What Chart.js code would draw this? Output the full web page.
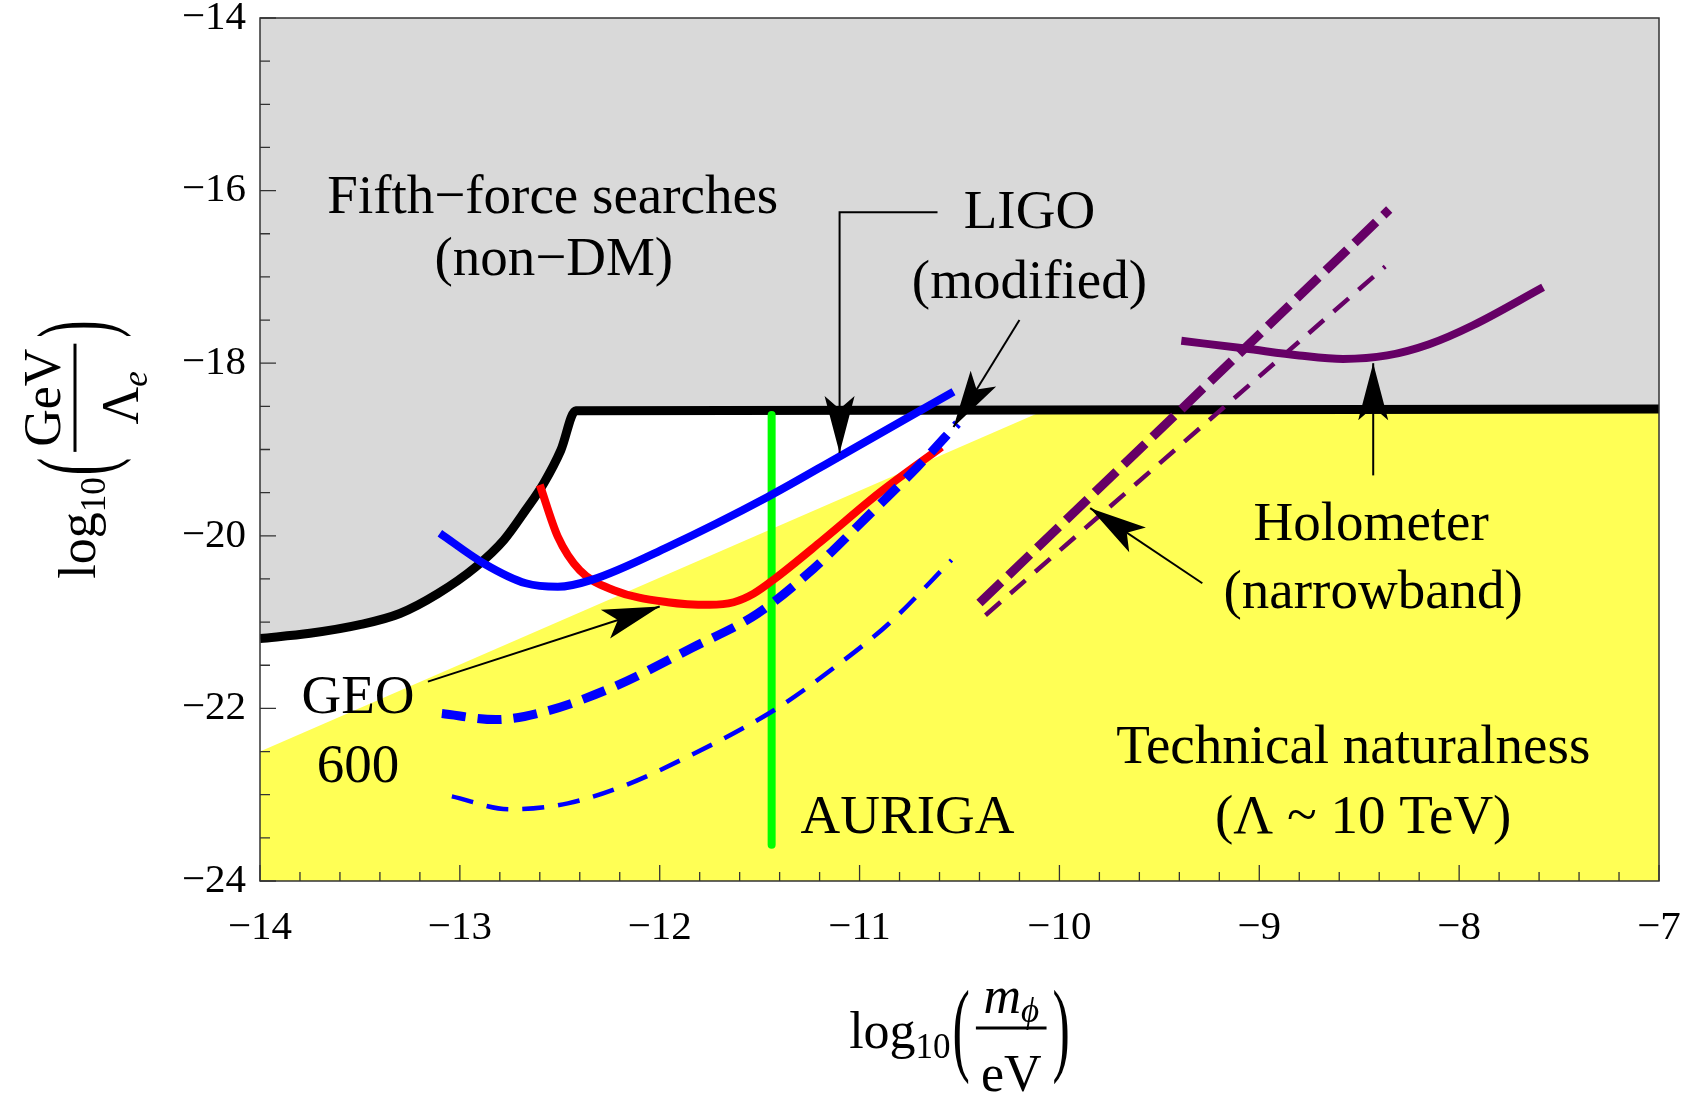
<!DOCTYPE html>
<html>
<head>
<meta charset="utf-8">
<script src="https://cdn.jsdelivr.net/npm/chart.js@4.4.1/dist/chart.umd.min.js"></script>
<style>
  html, body { margin: 0; padding: 0; background: #fff; }
  #wrap { width: 1698px; height: 1093px; position: relative; }
</style>
</head>
<body>
<div id="wrap"><canvas id="chart"></canvas></div>
<script>
// tick labels
const xTickValues = [-14, -13, -12, -11, -10, -9, -8, -7];
const yTickValues = [-24, -22, -20, -18, -16, -14];

// fifth-force exclusion boundary (grey above)
const fifthX = [-14, -13.75, -13.5, -13.3, -13.11, -12.92, -12.78, -12.67, -12.58, -12.495, -12.42, -7];
const fifthY = [-21.19, -21.13, -21.03, -20.9, -20.67, -20.36, -20.05, -19.7, -19.39, -19.01, -18.55, -18.53];

// technical naturalness boundary (yellow below)
const naturalX = [-14, -10.08, -7];
const naturalY = [-22.5, -18.55, -18.55];

// AURIGA
const aurigaX = [-11.44, -11.44];
const aurigaY = [-18.6, -23.58];

// GEO 600 (red)
const geoX = [-12.6, -12.51, -12.4, -12.23, -11.96, -11.75, -11.63, -11.53, -11.42, -11.19, -10.9, -10.59];
const geoY = [-19.41, -20.01, -20.4, -20.63, -20.77, -20.8, -20.77, -20.67, -20.49, -20.06, -19.5, -18.97];

// LIGO (blue solid)
const ligoX = [-13.1, -12.88, -12.67, -12.51, -12.34, -11.96, -11.46, -11.1, -10.53];
const ligoY = [-19.97, -20.32, -20.55, -20.59, -20.51, -20.13, -19.55, -19.08, -18.33];

// LIGO modified (blue thick dashed)
const ligoModX = [-13.09, -12.82, -12.58, -12.23, -11.84, -11.51, -11.23, -10.98, -10.71, -10.51];
const ligoModY = [-22.06, -22.13, -22.04, -21.75, -21.3, -20.9, -20.38, -19.82, -19.2, -18.7];

// LIGO modified, thin dashed
const ligoMod2X = [-13.04, -12.75, -12.46, -12.16, -11.86, -11.6, -11.4, -11.14, -10.85, -10.54];
const ligoMod2Y = [-23.02, -23.17, -23.1, -22.88, -22.56, -22.25, -21.98, -21.55, -21.01, -20.28];

// Holometer narrowband (purple dashed)
const holoNbX = [-10.4, -8.35];
const holoNbY = [-20.78, -16.22];
const holoNb2X = [-10.37, -8.37];
const holoNb2Y = [-20.92, -16.88];

// Holometer (purple solid)
const holoX = [-9.39, -9.07, -8.8, -8.58, -8.36, -8.15, -7.93, -7.58];
const holoY = [-17.74, -17.83, -17.91, -17.95, -17.91, -17.78, -17.56, -17.12];

// annotations in data coordinates
const labelTexts = [
  { t: "Fifth\u2212force searches", x: -12.535, y: -16.256 },
  { t: "(non\u2212DM)", x: -12.53, y: -16.98 },
  { t: "LIGO", x: -10.15, y: -16.43 },
  { t: "(modified)", x: -10.15, y: -17.24 },
  { t: "GEO", x: -13.51, y: -22.05 },
  { t: "600", x: -13.51, y: -22.85 },
  { t: "AURIGA", x: -10.76, y: -23.44 },
  { t: "Holometer", x: -8.44, y: -20.05 },
  { t: "(narrowband)", x: -8.43, y: -20.84 },
  { t: "Technical naturalness", x: -8.53, y: -22.63 },
  { t: "(\u039B ~ 10 TeV)", x: -8.48, y: -23.44 },
];

const arrows = [
  [[-10.61, -16.25], [-11.10, -16.25], [-11.10, -19.04]],
  [[-10.20, -17.50], [-10.53, -18.74]],
  [[-13.16, -21.69], [-12.00, -20.82]],
  [[-8.43, -19.30], [-8.43, -18.00]],
  [[-9.285, -20.55], [-9.846, -19.68]],
];

const SERIF = '"Liberation Serif", "Times New Roman", serif';
const PURPLE = "#660066";

function pts(xs, ys) {
  return xs.map((x, i) => ({ x, y: ys[i] }));
}

function fmtTick(v) {
  return v < 0 ? "\u2212" + Math.abs(v) : String(v);
}

const base = { pointRadius: 0, pointHoverRadius: 0, fill: false, borderCapStyle: "butt", borderJoinStyle: "round" };

function drawArrowHead(ctx, x0, y0, x1, y1) {
  const ang = Math.atan2(y1 - y0, x1 - x0);
  ctx.save();
  ctx.translate(x1, y1);
  ctx.rotate(ang);
  ctx.beginPath();
  ctx.moveTo(0, 0);
  ctx.lineTo(-57, -15);
  ctx.lineTo(-44, 0);
  ctx.lineTo(-57, 15);
  ctx.closePath();
  ctx.fill();
  ctx.restore();
}

function runWidth(ctx, runs) {
  let w = 0;
  for (const r of runs) { ctx.font = r.font; w += ctx.measureText(r.t).width; }
  return w;
}

function drawRuns(ctx, runs, x, y) {
  for (const r of runs) {
    ctx.font = r.font;
    ctx.fillText(r.t, x, y + (r.dy || 0));
    x += ctx.measureText(r.t).width;
  }
}

const mainFont = "52px " + SERIF;
const subFont = "35px " + SERIF;
const itFont = "italic 52px " + SERIF;
const itSub = "italic 35px " + SERIF;

function drawParen(ctx, ch, x) {
  ctx.save();
  ctx.translate(x, 7);
  ctx.scale(1, 2);
  ctx.font = mainFont;
  ctx.fillText(ch, 0, 13.5);
  ctx.restore();
}

function drawAxisTitle(ctx, cx, cy, angle, numRuns, denRuns) {
  ctx.save();
  ctx.translate(cx, cy);
  ctx.rotate(angle);
  ctx.fillStyle = "#000";
  ctx.textAlign = "left";
  ctx.textBaseline = "alphabetic";
  const logRuns = [{ t: "log", font: mainFont }, { t: "10", font: subFont, dy: 10 }];
  const wLog = runWidth(ctx, logRuns);
  ctx.font = mainFont;
  const wPar = ctx.measureText("(").width;
  const wNum = runWidth(ctx, numRuns);
  const wDen = runWidth(ctx, denRuns);
  const wBar = Math.max(wNum, wDen) + 10;
  const gap = 6;
  const total = wLog + 2 + wPar + gap + wBar + gap + wPar;
  let x = -total / 2;
  drawRuns(ctx, logRuns, x, 20);
  x += wLog + 2;
  drawParen(ctx, "(", x);
  x += wPar + gap;
  ctx.fillRect(x, -1.5, wBar, 3);
  drawRuns(ctx, numRuns, x + (wBar - wNum) / 2, -15);
  drawRuns(ctx, denRuns, x + (wBar - wDen) / 2, 63);
  x += wBar + gap;
  drawParen(ctx, ")", x);
  ctx.restore();
}

const decorations = {
  id: "decorations",
  afterDatasetsDraw(chart) {
    const { ctx, chartArea: a, scales } = chart;
    const xs = scales.x, ys = scales.y;
    ctx.save();

    // inward ticks
    ctx.strokeStyle = "#333";
    ctx.lineWidth = 1.3;
    ctx.beginPath();
    for (let i = 0; i <= 35; i++) {
      const px = xs.getPixelForValue(-14 + i * 0.2);
      ctx.moveTo(px, a.bottom);
      ctx.lineTo(px, a.bottom - (i % 5 === 0 ? 16 : 9));
    }
    for (let i = 0; i <= 20; i++) {
      const py = ys.getPixelForValue(-24 + i * 0.5);
      ctx.moveTo(a.left, py);
      ctx.lineTo(a.left + (i % 4 === 0 ? 16 : 10), py);
    }
    ctx.stroke();

    // frame
    ctx.lineWidth = 1.5;
    ctx.strokeRect(a.left, a.top, a.right - a.left, a.bottom - a.top);

    // arrows
    ctx.strokeStyle = "#000";
    ctx.fillStyle = "#000";
    ctx.lineWidth = 2;
    for (const arr of arrows) {
      const p = arr.map(([x, y]) => [xs.getPixelForValue(x), ys.getPixelForValue(y)]);
      ctx.beginPath();
      ctx.moveTo(p[0][0], p[0][1]);
      for (let i = 1; i < p.length; i++) ctx.lineTo(p[i][0], p[i][1]);
      ctx.stroke();
      const n = p.length;
      drawArrowHead(ctx, p[n - 2][0], p[n - 2][1], p[n - 1][0], p[n - 1][1]);
    }

    // labels
    ctx.font = "55px " + SERIF;
    ctx.textAlign = "center";
    ctx.textBaseline = "alphabetic";
    for (const l of labelTexts) {
      ctx.fillText(l.t, xs.getPixelForValue(l.x), ys.getPixelForValue(l.y));
    }

    // axis titles
    const cxMid = (a.left + a.right) / 2;
    const cyMid = (a.top + a.bottom) / 2;
    drawAxisTitle(ctx, cxMid, a.bottom + 147, 0,
      [{ t: "m", font: itFont }, { t: "\u03D5", font: itSub, dy: 9 }],
      [{ t: "eV", font: mainFont }]);
    drawAxisTitle(ctx, a.left - 185, cyMid, -Math.PI / 2,
      [{ t: "GeV", font: mainFont }],
      [{ t: "\u039B", font: mainFont }, { t: "e", font: itSub, dy: 9 }]);

    ctx.restore();
  },
};

new Chart(document.getElementById("chart"), {
  type: "line",
  data: {
    datasets: [
      { ...base, label: "Technical naturalness", data: pts(naturalX, naturalY), borderWidth: 0, borderColor: "rgba(0,0,0,0)", backgroundColor: "#ffff55", fill: "start", order: 10 },
      { ...base, label: "Fifth-force searches", data: pts(fifthX, fifthY), borderColor: "#000", borderWidth: 9, backgroundColor: "#d9d9d9", fill: "end", cubicInterpolationMode: "monotone", order: 9 },
      { ...base, label: "AURIGA", data: pts(aurigaX, aurigaY), borderColor: "#00ff00", borderWidth: 8, order: 8 },
      { ...base, label: "GEO 600", data: pts(geoX, geoY), borderColor: "#ff0000", borderWidth: 8, cubicInterpolationMode: "monotone", order: 7 },
      { ...base, label: "LIGO", data: pts(ligoX, ligoY), borderColor: "#0000ff", borderWidth: 8, cubicInterpolationMode: "monotone", order: 6 },
      { ...base, label: "LIGO (modified)", data: pts(ligoModX, ligoModY), borderColor: "#0000ff", borderWidth: 9, borderDash: [24, 12], cubicInterpolationMode: "monotone", order: 5 },
      { ...base, label: "LIGO (modified) 2", data: pts(ligoMod2X, ligoMod2Y), borderColor: "#0000ff", borderWidth: 4.5, borderDash: [22, 14], cubicInterpolationMode: "monotone", order: 4 },
      { ...base, label: "Holometer (narrowband)", data: pts(holoNbX, holoNbY), borderColor: PURPLE, borderWidth: 9, borderDash: [30, 10], order: 3 },
      { ...base, label: "Holometer (narrowband) 2", data: pts(holoNb2X, holoNb2Y), borderColor: PURPLE, borderWidth: 4.5, borderDash: [20, 13], order: 2 },
      { ...base, label: "Holometer", data: pts(holoX, holoY), borderColor: PURPLE, borderWidth: 8, cubicInterpolationMode: "monotone", order: 1 },
    ],
  },
  options: {
    responsive: true,
    maintainAspectRatio: false,
    devicePixelRatio: 1,
    animation: false,
    events: [],
    layout: { padding: { top: 18, right: 39, left: 0, bottom: 0 } },
    plugins: { legend: { display: false }, tooltip: { enabled: false } },
    scales: {
      x: {
        type: "linear",
        min: -14,
        max: -7,
        afterBuildTicks: (s) => { s.ticks = xTickValues.map((v) => ({ value: v })); },
        afterFit: (s) => { s.height = 212; },
        grid: { display: false, drawTicks: false },
        border: { display: false },
        ticks: {
          callback: fmtTick,
          color: "#000",
          padding: 10,
          maxRotation: 0,
          autoSkip: false,
          font: { family: SERIF, size: 41, lineHeight: 1.8 },
        },
      },
      y: {
        type: "linear",
        min: -24,
        max: -14,
        afterBuildTicks: (s) => { s.ticks = yTickValues.map((v) => ({ value: v })); },
        afterFit: (s) => { s.width = 260; },
        grid: { display: false, drawTicks: false },
        border: { display: false },
        ticks: {
          callback: fmtTick,
          color: "#000",
          padding: 14,
          autoSkip: false,
          font: { family: SERIF, size: 41, lineHeight: 0.1 },
        },
      },
    },
  },
  plugins: [decorations],
});
</script>
</body>
</html>
